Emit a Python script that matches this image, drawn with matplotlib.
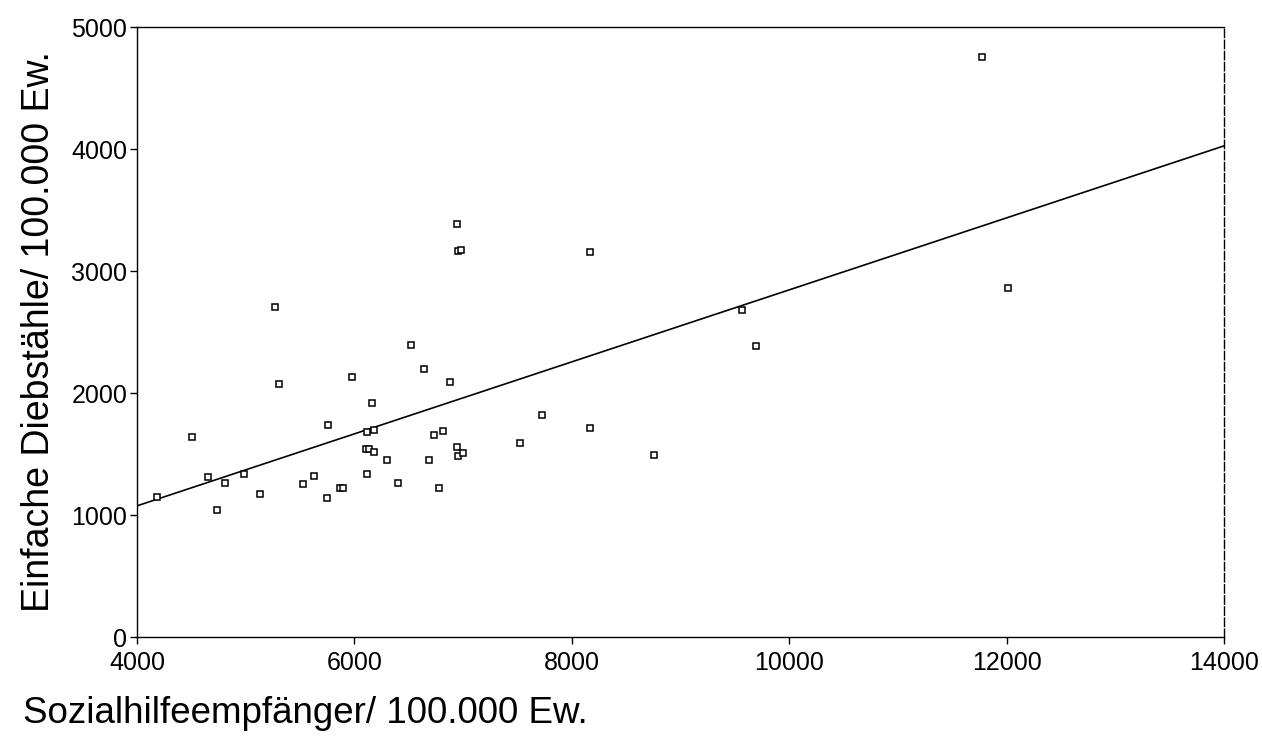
import numpy as np
import matplotlib
matplotlib.use('Agg')
from matplotlib import pyplot as plt

plt.rcParams['font.family'] = ['Liberation Sans', 'DejaVu Sans']

# Sozialhilfeempfaenger / 100.000 Ew.
sozialhilfe = [4184, 4506, 4653, 4736, 4809, 4984, 5131, 5269, 5306, 5526,
               5628, 5747, 5756, 5867, 5894, 5977, 6106, 6133, 6115, 6179,
               6179, 6115, 6161, 6299, 6400, 6519, 6639, 6685, 6731, 6814,
               6777, 6878, 6943, 6952, 6979, 6943, 6952, 6998, 7522, 7724,
               8166, 8166, 8754, 9563, 9692, 11770, 12009]
# Einfache Diebstaehle / 100.000 Ew.
diebstaehle = [1148, 1639, 1311, 1041, 1262, 1336, 1172, 2705, 2074, 1254,
               1320, 1139, 1738, 1221, 1221, 2131, 1541, 1541, 1680, 1697,
               1516, 1336, 1918, 1451, 1262, 2393, 2197, 1451, 1656, 1689,
               1221, 2090, 3385, 3164, 3172, 1557, 1484, 1508, 1590, 1820,
               3156, 1713, 1492, 2680, 2385, 4754, 2861]

x_ticks = [4000, 6000, 8000, 10000, 12000, 14000]
y_ticks = [0, 1000, 2000, 3000, 4000, 5000]

fig = plt.figure(figsize=(12.62, 7.42), dpi=100)
ax = fig.add_axes([0.1086, 0.1415, 0.8613, 0.8221])

x = np.array(sozialhilfe, dtype=float)
y = np.array(diebstaehle, dtype=float)

# linear regression line over the full x range
slope, intercept = np.polyfit(x, y, 1)
xl = np.array([4000, 14000])
ax.plot(xl, intercept + slope * xl, color='black', lw=1.2)

ax.plot(x, y, 's', ms=4.5, mfc='white', mec='black', mew=1.1, ls='none')

ax.set_xlim(4000, 14000)
ax.set_ylim(0, 5000)
ax.set_xticks(x_ticks)
ax.set_yticks(y_ticks)
ax.tick_params(labelsize=18, length=5, width=1, direction='out')
ax.tick_params(axis='x', pad=5)
ax.tick_params(axis='y', pad=2)
for s in ax.spines.values():
    s.set_linewidth(1)
ax.spines['right'].set_linestyle((0, (6, 2)))

ax.set_ylabel('Einfache Diebstähle/ 100.000 Ew.', fontsize=27, labelpad=10)
fig.text(0.018, 0.039, 'Sozialhilfeempfänger/ 100.000 Ew.', fontsize=26.5,
         ha='left', va='center')

fig.savefig('out.png', dpi=100)
